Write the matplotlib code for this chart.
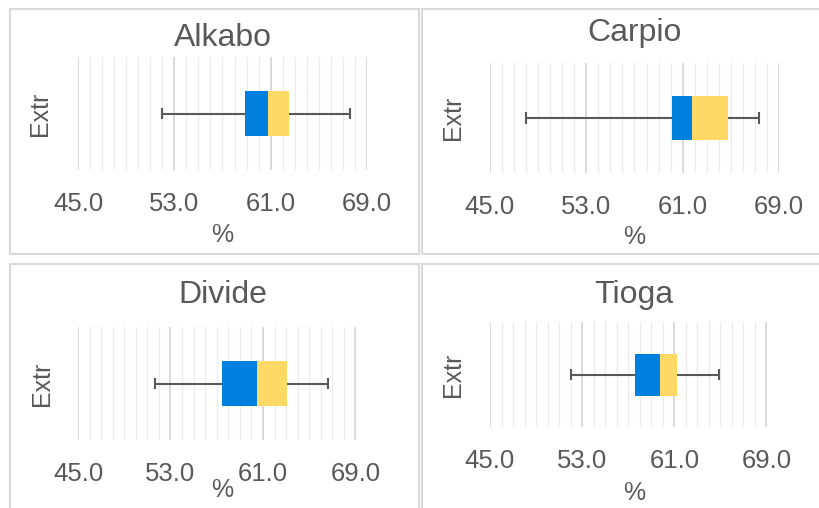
import matplotlib.pyplot as plt
from matplotlib.patches import Rectangle
from matplotlib.ticker import MultipleLocator, FixedLocator

# box-plot statistics per site (%)
sites = ['Alkabo', 'Carpio', 'Divide', 'Tioga']
mins = [52.0, 48.0, 51.7, 52.0]
q1s = [58.9, 60.1, 57.5, 57.6]
medians = [60.8, 61.8, 60.5, 59.8]
q3s = [62.5, 64.8, 63.1, 61.2]
maxs = [67.6, 67.3, 66.6, 64.9]
tick_values = [45.0, 53.0, 61.0, 69.0]
category = 'Extr'

W, H = 820, 508
TXT = '#595959'
plt.rcParams['font.family'] = ['Liberation Sans', 'DejaVu Sans']

fig = plt.figure(figsize=(W / 100, H / 100), dpi=100)

# panel frames (px: left, top, right, bottom)
frames = [(10, 9, 419, 254), (422, 9, 830, 254),
          (10, 264, 419, 520), (422, 264, 830, 520)]
for l, t, r, b in frames:
    fig.patches.append(Rectangle((l / W, 1 - b / H), (r - l) / W, (b - t) / H,
                                 transform=fig.transFigure, fill=False,
                                 edgecolor='#D9D9D9', linewidth=1.5))

# plot areas in px (left, top, right, bottom), x max, title y, xlabel y, ylabel x
layout = [
    ((78, 57, 367, 170), 69, 38, 235, 40),
    ((490, 63, 779, 173), 69, 33, 237, 453),
    ((78, 327, 367, 440), 70, 295, 490, 42),
    ((490, 322, 778, 427), 70, 295, 493, 453),
]

for i, name in enumerate(sites):
    (l, t, r, b), xmax, ty, xly, ylx = layout[i]
    pw, ph = r - l, b - t
    ax = fig.add_axes([l / W, 1 - b / H, pw / W, ph / H])
    ax.set_xlim(45, xmax)
    ax.set_ylim(-0.5, 0.5)

    # grid: light minor lines each unit, darker major lines
    ax.xaxis.set_major_locator(FixedLocator(tick_values))
    ax.xaxis.set_minor_locator(MultipleLocator(1))
    ax.grid(axis='x', which='major', color='#D9D9D9', linewidth=1.4, zorder=0)
    ax.grid(axis='x', which='minor', color='#EBEBEB', linewidth=0.9, zorder=0)
    ax.set_axisbelow(True)
    ax.set_xticklabels([f'{v:.1f}' for v in tick_values])
    ax.tick_params(axis='x', which='both', length=0, pad=16, labelsize=18.5,
                   labelcolor=TXT)
    ax.set_yticks([])
    for s in ax.spines.values():
        s.set_visible(False)

    # whiskers and caps
    ax.hlines(0, mins[i], q1s[i], color=TXT, linewidth=1.5, zorder=2)
    ax.hlines(0, q3s[i], maxs[i], color=TXT, linewidth=1.5, zorder=2)
    ax.vlines([mins[i], maxs[i]], -0.053, 0.053, color=TXT, linewidth=1.5, zorder=2)

    # box halves
    ax.barh(0, medians[i] - q1s[i], left=q1s[i], height=0.4, color='#0080DE', zorder=3)
    ax.barh(0, q3s[i] - medians[i], left=medians[i], height=0.4, color='#FFD966', zorder=3)

    ax.set_title(name, fontsize=23, color=TXT, y=1 + (t - ty) / ph, va='center', pad=0)
    ax.set_xlabel('%', fontsize=18, color=TXT, va='center')
    ax.xaxis.set_label_coords(0.5, -(xly - b) / ph)
    ax.set_ylabel(category, fontsize=18, color=TXT, va='center', ha='center')
    ax.yaxis.set_label_coords((ylx - l) / pw, 0.5)

fig.savefig('out.png', dpi=100, facecolor='white')
